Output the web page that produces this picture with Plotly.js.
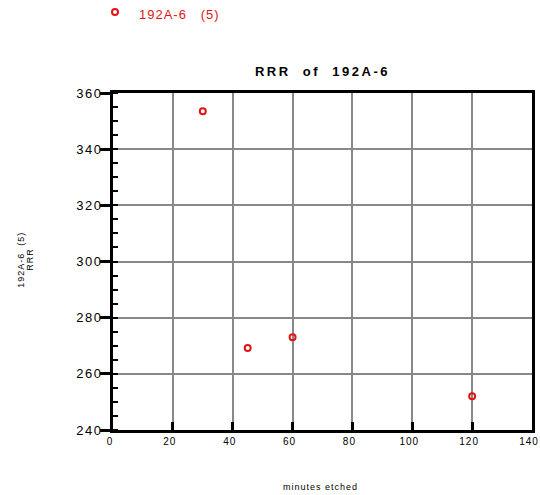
<!DOCTYPE html>
<html><head><meta charset="utf-8">
<script src="https://cdn.plot.ly/plotly-3.0.1.min.js"></script>
<style>
html,body{margin:0;padding:0;background:#fff;}
#chart{width:540px;height:495px;}
.xtick text{letter-spacing:1px;}
g.xtick{transform:translateX(-3px);}
.ytick text{letter-spacing:1.5px;}
.gtitle{letter-spacing:2.5px;}
.legendtext{letter-spacing:1px;transform:translate(4px,2px);}
.annotation-text{letter-spacing:1px;}
</style></head><body><div id="chart"></div>
<script>
const minutesEtched = [30, 45, 60, 120];
const rrrValues = [353.5, 269.2, 273, 252];
const seriesName = '192A-6\u00a0\u00a0\u00a0(5)';
const xTickVals = [0, 20, 40, 60, 80, 100, 120, 140];
const yTickVals = [240, 260, 280, 300, 320, 340, 360];
const chartTitle = 'RRR\u00a0\u00a0of\u00a0\u00a0192A-6';
const xTitle = 'minutes etched';
const yTitleLine1 = '192A-6\u00a0\u00a0(5)';
const yTitleLine2 = 'RRR';

const red = 'rgb(225,20,20)';
const font = 'Liberation Sans, Arial, sans-serif';

const traces = [{
  type: 'scatter', mode: 'markers',
  x: minutesEtched, y: rrrValues,
  name: seriesName,
  marker: {symbol: 'circle-open', size: 6, color: red, line: {width: 2, color: red}},
  cliponaxis: false
}];

const layout = {
  width: 540, height: 495,
  margin: {l: 113, r: 8, t: 93, b: 65, autoexpand: false},
  paper_bgcolor: '#fff', plot_bgcolor: '#fff',
  font: {family: font, color: '#000'},
  showlegend: true,
  legend: {x: -0.043, y: 1.285, xanchor: 'left', yanchor: 'top', font: {size: 13, color: red, family: font}, bgcolor: 'rgba(0,0,0,0)'},
  title: {text: '<b>' + chartTitle + '</b>', font: {size: 13, family: font, color: '#000'}, x: 0.5, xref: 'paper', xanchor: 'center', y: 1 - 71/495, yref: 'container', yanchor: 'middle'},
  xaxis: {
    range: [0, 140], tickvals: xTickVals, ticktext: xTickVals.map(String),
    ticks: 'inside', ticklen: 8, tickwidth: 3, tickcolor: '#000',
    ticklabeloverflow: 'allow',
    showline: true, linewidth: 3, linecolor: '#000', mirror: true,
    showgrid: true, gridcolor: '#888', gridwidth: 2, zeroline: false,
    tickfont: {size: 10, family: font, color: '#000'}
  },
  yaxis: {
    range: [240, 360], tickvals: yTickVals, ticktext: yTickVals.map(String),
    ticks: 'outside', ticklen: 10, tickwidth: 3, tickcolor: '#000',
    ticklabelstandoff: -5,
    minor: {dtick: 5, ticks: 'inside', ticklen: 5, tickwidth: 2, tickcolor: '#000', showgrid: false},
    showline: true, linewidth: 3, linecolor: '#000', mirror: true,
    showgrid: true, gridcolor: '#888', gridwidth: 2, zeroline: false,
    tickfont: {size: 13, family: font, color: '#000'}
  },
  yaxis2: {
    overlaying: 'y', anchor: 'x', side: 'left',
    range: [240, 360], tickvals: yTickVals, showticklabels: false,
    ticks: 'inside', ticklen: 7, tickwidth: 3, tickcolor: '#000',
    showline: false, showgrid: false, zeroline: false
  },
  annotations: [
    {text: xTitle, xref: 'paper', yref: 'paper', x: 0.495, y: -0.169, xanchor: 'center', yanchor: 'middle', showarrow: false, font: {size: 9, family: font, color: '#000'}},
    {text: yTitleLine1, xref: 'paper', yref: 'paper', x: (21 - 113)/419, y: 0.505, xanchor: 'center', yanchor: 'middle', textangle: -90, showarrow: false, font: {size: 9, family: font, color: '#000'}},
    {text: yTitleLine2, xref: 'paper', yref: 'paper', x: (30 - 113)/419, y: 0.505, xanchor: 'center', yanchor: 'middle', textangle: -90, showarrow: false, font: {size: 9, family: font, color: '#000'}}
  ]
};

Plotly.newPlot('chart', traces, layout, {displayModeBar: false, staticPlot: true});
</script></body></html>
